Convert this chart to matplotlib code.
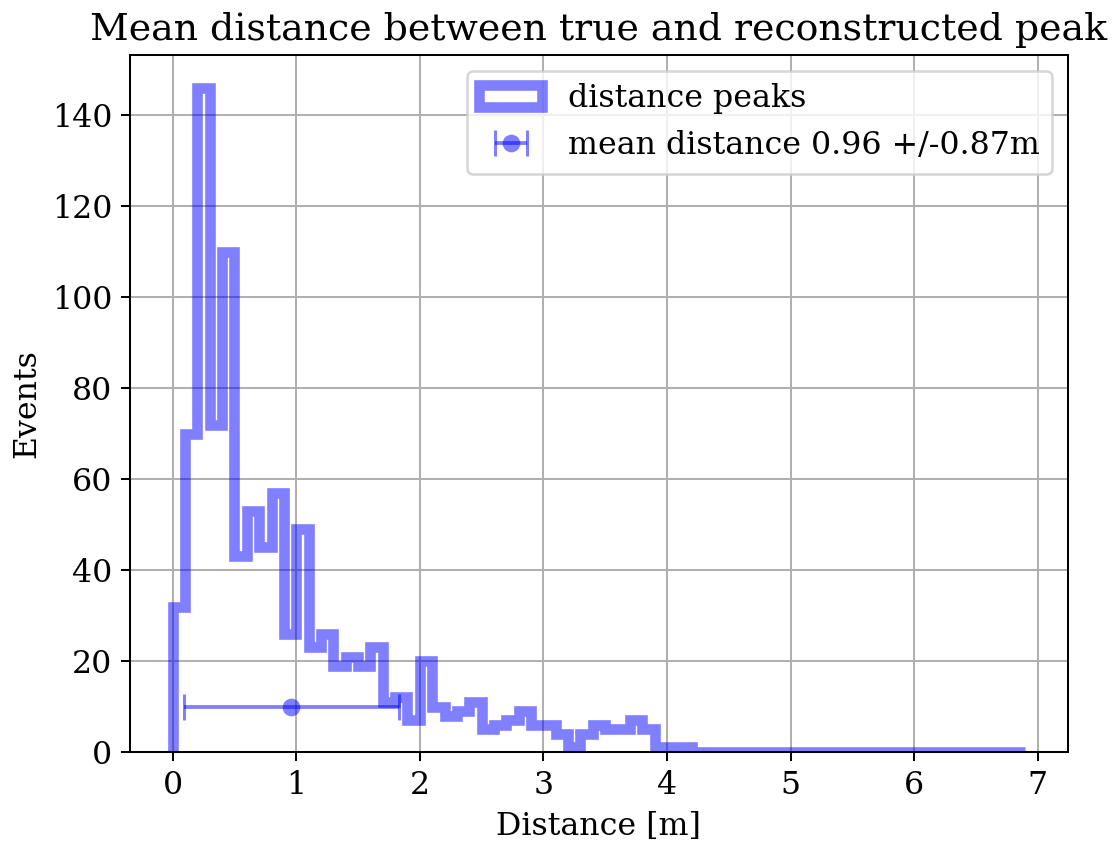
import matplotlib
matplotlib.use("Agg")
import matplotlib.pyplot as plt
import numpy as np

DPI = 182

# histogram: bin edges every 0.1 m from 0 to 6.9, counts
bin_edges = np.round(np.arange(0.0, 6.95, 0.1), 2)
counts = [
    32, 70, 146, 72, 110, 43, 53, 45, 57, 26,
    49, 23, 26, 19, 21, 19, 23, 11, 12, 7,
    20, 10, 8, 9, 11, 5, 6, 7, 9, 6,
    6, 4, 1, 4, 6, 5, 5, 7, 5, 1,
    1, 1, 0, 0, 0, 0, 0, 0, 0, 0,
    0, 0, 0, 0, 0, 0, 0, 0, 0, 0,
    0, 0, 0, 0, 0, 0, 0, 0, 0,
]
mean_distance = 0.96
std_distance = 0.87
marker_height = 10

plt.rcParams["font.family"] = "serif"
plt.rcParams["font.serif"] = ["DejaVu Serif"]
plt.rcParams["font.size"] = 12.5

fig = plt.figure(figsize=(1116 / DPI, 843 / DPI), dpi=DPI)
ax = fig.add_axes([130 / 1116, 91 / 843, 938 / 1116, 697 / 843])

ax.hist(bin_edges[:-1], bins=bin_edges, weights=counts[: len(bin_edges) - 1],
        histtype="step", color="blue", alpha=0.5, linewidth=4.2,
        label="distance peaks")
eb = ax.errorbar(mean_distance, marker_height, xerr=std_distance, fmt="o",
                 color="blue", alpha=0.5, capsize=5, capthick=1.2,
                 markersize=7,
                 label=f"mean distance {mean_distance:.2f} +/-{std_distance:.2f}m")
# no darker ring round the marker
eb[0].set_markeredgewidth(0)

ax.set_title("Mean distance between true and reconstructed peak")
ax.set_xlabel("Distance [m]")
ax.set_ylabel("Events")
ax.grid(True)
ax.legend(loc="upper right")

fig.savefig("out.png", dpi=DPI)
